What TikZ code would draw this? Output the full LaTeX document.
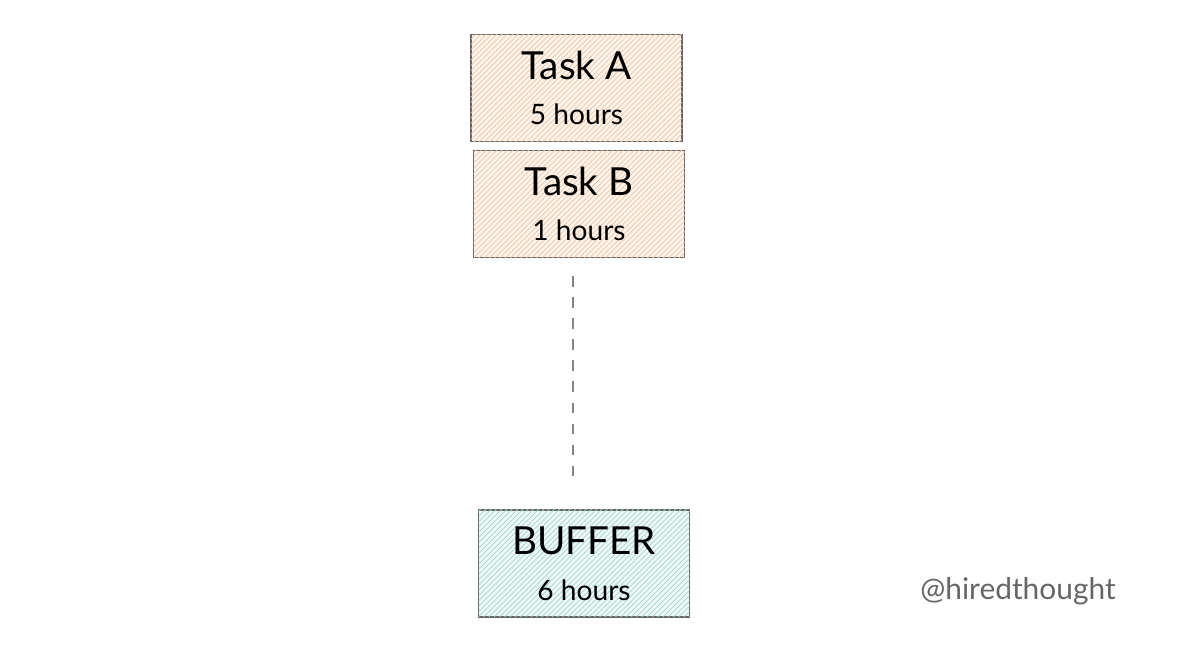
\documentclass[tikz,border=0pt]{standalone}
\usepackage{fontspec}
\setmainfont{Lato}
\usetikzlibrary{patterns}

\definecolor{taskhatch}{HTML}{F2C4A0}
\definecolor{taskfill}{HTML}{FDF5EE}
\definecolor{bufhatch}{HTML}{9FD6D0}
\definecolor{buffill}{HTML}{F1F9F8}
\definecolor{boxline}{HTML}{666666}
\newcommand{\hoursfont}{\fontsize{16}{18}\selectfont}

\begin{document}
\begin{tikzpicture}[
  taskbox/.style={draw=boxline,line width=1.1pt,minimum width=4.22cm,minimum height=2.14cm,
    align=center,font=\fontsize{22}{24}\selectfont}]
% Page is 1200 x 663 px, one px is .02cm
\useasboundingbox (0,0) rectangle (24,13.26);
% Task A on top
\node [taskbox,fill=taskfill,postaction={pattern=north east lines,pattern color=taskhatch}] (taska) at (11.53,11.50) {Task A\\[2pt]{\hoursfont 5 hours}};
% Task B right below it
\node [taskbox,fill=taskfill,postaction={pattern=north east lines,pattern color=taskhatch}] (taskb) at (11.58,9.18) {Task B\\[2pt]{\hoursfont 1 hours}};
% Buffer at the bottom
\node [taskbox,fill=buffill,postaction={pattern=north east lines,pattern color=bufhatch}] (buffer) at (11.68,1.99) {BUFFER\\[2pt]{\hoursfont 6 hours}};
% Dashed gap between task B and the buffer
\coordinate (gtop) at (11.46,7.74);
\coordinate (gbot) at (11.46,3.66);
\draw [boxline!80,line width=1pt,dash pattern=on 6pt off 6pt] (gtop) -- (gbot);
% Signature
\node [text=boxline,font=\fontsize{17}{19}\selectfont] (sign) at (20.36,1.44) {@hiredthought};
\end{tikzpicture}
\end{document}
